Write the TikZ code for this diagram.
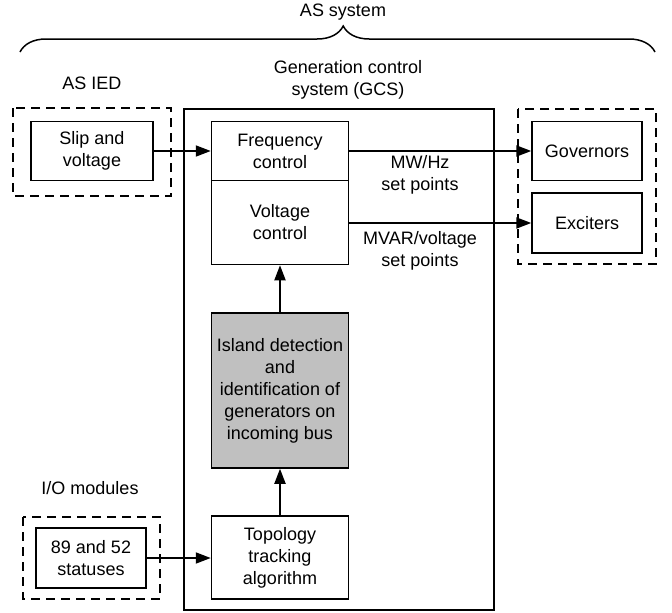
\documentclass[tikz,border=0pt]{standalone}
\usepackage{fontspec}
\setmainfont{Liberation Sans}
\usetikzlibrary{arrows.meta,decorations.pathreplacing}
\definecolor{islandgray}{RGB}{192,192,192}
\tikzset{
  block/.style={draw, line width=1.5pt, align=center, inner sep=0pt},
  group/.style={draw, line width=1.5pt, dash pattern=on 9pt off 6pt},
  link/.style={line width=1.8pt, -{Triangle[length=15pt,width=11pt]}},
  lbl/.style={align=center, inner sep=0pt}
}
\begin{document}
\begin{tikzpicture}[x=1pt, y=-1pt, font=\fontsize{18}{22}\selectfont]
    \useasboundingbox (0,0) rectangle (672,613);
    % widths of the block columns
    \def\cw{137}
    \def\cx{280}

    % overall brace and titles
    \draw[line width=1.5pt, decorate, decoration={brace, amplitude=26pt, aspect=0.509}] (20,52) -- (655,52);
    \node[lbl] (assys) at (343,12) {AS system};
    \node[lbl] (iedlbl) at (92,83) {AS IED};
    \node[lbl] (gcslbl) at (348,80) {Generation control\\system (GCS)};
    \node[lbl] (iolbl) at (90,488) {I/O modules};

    % dashed groups and the GCS frame
    \draw[group] (13,108) rectangle (171,196);
    \draw[group] (518,109) rectangle (656,264);
    \draw[group] (23,517) rectangle (160,599);
    \draw[block] (184,109) rectangle (494,610);

    % blocks
    \node[block, minimum width=122pt, minimum height=59pt] (slip) at (92,151) {Slip and\\voltage};
    \node[block, minimum width=\cw pt, minimum height=59pt] (freq) at (\cx,151) {Frequency\\control};
    \node[block, minimum width=\cw pt, minimum height=84pt] (volt) at (\cx,222.5) {Voltage\\control};
    \node[block, fill=islandgray, minimum width=\cw pt, minimum height=155pt] (island) at (\cx,390.5)
      {Island detection\\and\\identification of\\generators on\\incoming bus};
    \node[block, minimum width=\cw pt, minimum height=83pt] (topo) at (\cx,557.5) {Topology\\tracking\\algorithm};
    \node[block, minimum width=110pt, minimum height=59pt] (gov) at (587,151) {Governors};
    \node[block, minimum width=110pt, minimum height=60pt] (exc) at (587,223) {Exciters};
    \node[block, minimum width=110pt, minimum height=60pt] (stat) at (91,558) {89 and 52\\statuses};

    % signal flow
    \draw[link] (slip.east) -- (freq.west);
    \draw[link] (freq.east) -- (gov.west);
    \draw[link] (volt.east |- exc.west) -- (exc.west);
    \draw[link] (island.north) -- (volt.south);
    \draw[link] (topo.north) -- (island.south);
    \draw[link] (stat.east) -- (topo.west |- stat.east);

    % set point labels
    \node[lbl] (mwhz) at (420,175) {MW/Hz\\set points};
    \node[lbl] (mvar) at (420,250.5) {MVAR/voltage\\set points};
  \end{tikzpicture}
\end{document}
